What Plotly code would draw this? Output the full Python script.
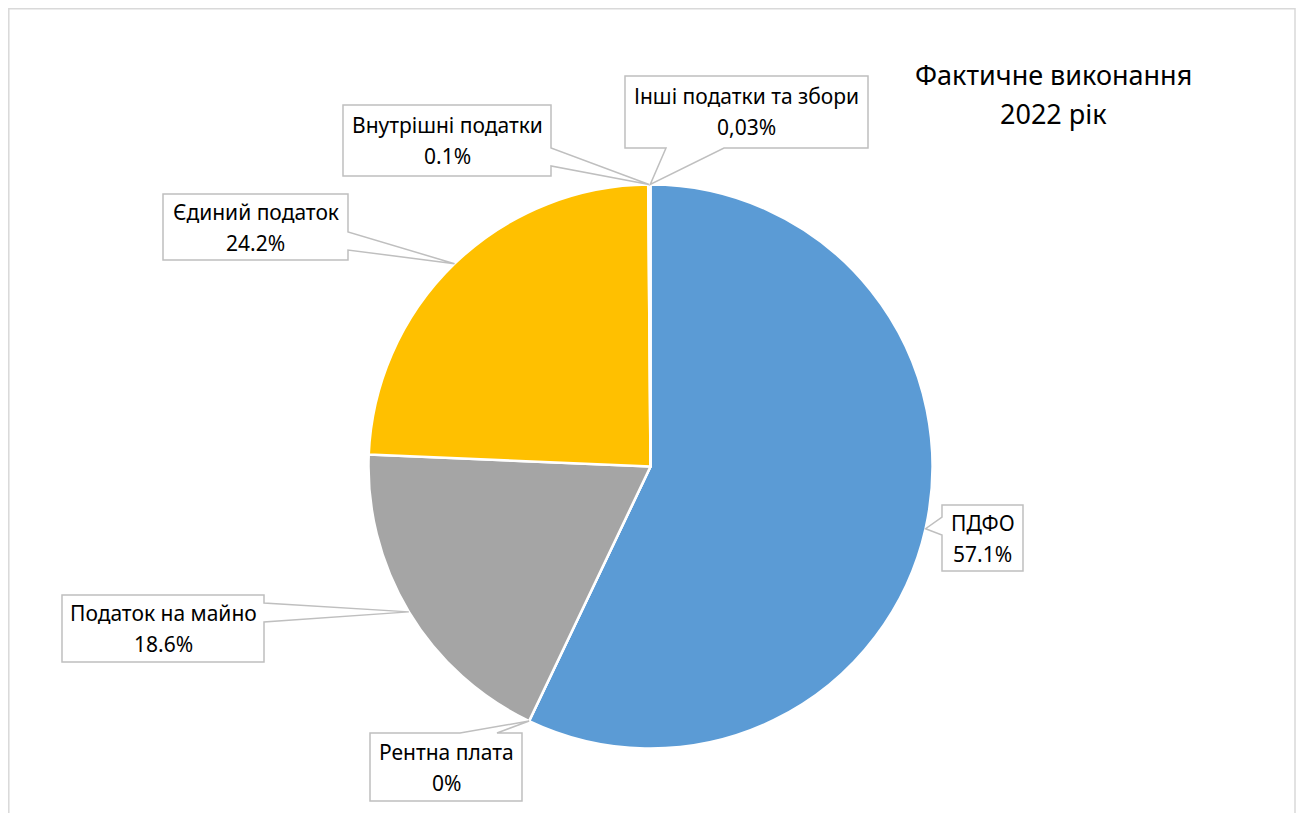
import math
import plotly.graph_objects as go

# ---- data ----
categories = ["ПДФО", "Рентна плата", "Податок на майно", "Єдиний податок",
              "Внутрішні податки", "Інші податки та збори"]
values = [57.1, 0.0, 18.6, 24.2, 0.1, 0.03]
value_labels = ["57.1%", "0%", "18.6%", "24.2%", "0.1%", "0,03%"]
colors = ["#5B9BD5", "#ED7D31", "#A5A5A5", "#FFC000", "#4472C4", "#70AD47"]
title_lines = ["Фактичне виконання", "2022 рік"]

# page body has an 8px margin; the figure fills the rest of the window
OFF = 8
W, H = 1304 - 2 * OFF, 821 - 2 * OFF
FONT = "Noto Sans"

def px(x):
    return (x - OFF) / W

def py(y):
    return 1 - (y - OFF) / H

# pie geometry (window pixels)
CX, CY, R = 650.5, 466.5, 282.0

# label box layout (window pixels): box, side of wedge, wedge base along that side
label_layout = [
    ((942, 505, 1023, 571), "left", (517, 535)),
    ((370, 733, 522, 801), "top", (460, 497)),
    ((62, 595, 264, 662), "right", (603, 622)),
    ((163, 194, 348, 260), "right", (232, 250)),
    ((343, 105, 551, 176), "right", (148, 166)),
    ((625, 76, 868, 148), "bottom", (666, 724)),
]

fig = go.Figure()
fig.add_trace(go.Pie(
    labels=categories,
    values=values,
    sort=False,
    direction="clockwise",
    rotation=0,
    marker=dict(colors=colors, line=dict(color="white", width=2.5)),
    textinfo="none",
    hoverinfo="label+percent",
    showlegend=False,
    domain=dict(x=[px(CX - R), px(CX + R)], y=[py(CY + R), py(CY - R)]),
))

# tips of the callouts from the slices' middle angles
total = sum(values)
tips = []
cum = 0.0
for v in values:
    mid = (cum + v / 2) / total * 2 * math.pi
    tips.append((CX + R * math.sin(mid), CY - R * math.cos(mid)))
    cum += v

shapes = []
annotations = []

def P(x, y):
    return f"{px(x):.6f},{py(y):.6f}"

for (box, side, base), tip, name, pct in zip(label_layout, tips, categories, value_labels):
    x0, y0, x1, y1 = box
    b0, b1 = base
    tx, ty = tip
    pts = [(x0, y0)]
    if side == "top":
        pts += [(b0, y0), (tx, ty), (b1, y0)]
    pts += [(x1, y0)]
    if side == "right":
        pts += [(x1, b0), (tx, ty), (x1, b1)]
    pts += [(x1, y1)]
    if side == "bottom":
        pts += [(b1, y1), (tx, ty), (b0, y1)]
    pts += [(x0, y1)]
    if side == "left":
        pts += [(x0, b1), (tx, ty), (x0, b0)]
    path = "M " + " L ".join(P(x, y) for x, y in pts) + " Z"
    shapes.append(dict(type="path", xref="paper", yref="paper", path=path,
                       fillcolor="white", line=dict(color="#BFBFBF", width=1.5),
                       layer="above"))
    cxm = (x0 + x1) / 2
    cym = (y0 + y1) / 2
    for txt, yy in ((name, cym - 15.5), (pct, cym + 15.5)):
        annotations.append(dict(
            x=px(cxm), y=py(yy), xref="paper", yref="paper",
            text=txt, showarrow=False, xanchor="center", yanchor="middle",
            font=dict(family=FONT, size=21, color="#000000"),
        ))

# title
for txt, yy in zip(title_lines, (75, 113)):
    annotations.append(dict(
        x=px(1053), y=py(yy), xref="paper", yref="paper",
        text=txt, showarrow=False, xanchor="center", yanchor="middle",
        font=dict(family=FONT, size=27, color="#000000"),
    ))

# chart area border
shapes.append(dict(type="rect", xref="paper", yref="paper",
                   x0=px(8.8), x1=px(1295), y0=py(840), y1=py(8.8),
                   line=dict(color="#D9D9D9", width=1.5), fillcolor="rgba(0,0,0,0)",
                   layer="above"))

fig.update_layout(
    width=W, height=H,
    margin=dict(l=0, r=0, t=0, b=0),
    paper_bgcolor="white",
    plot_bgcolor="white",
    shapes=shapes,
    annotations=annotations,
    font=dict(family=FONT),
)

fig.write_html("out.html")
